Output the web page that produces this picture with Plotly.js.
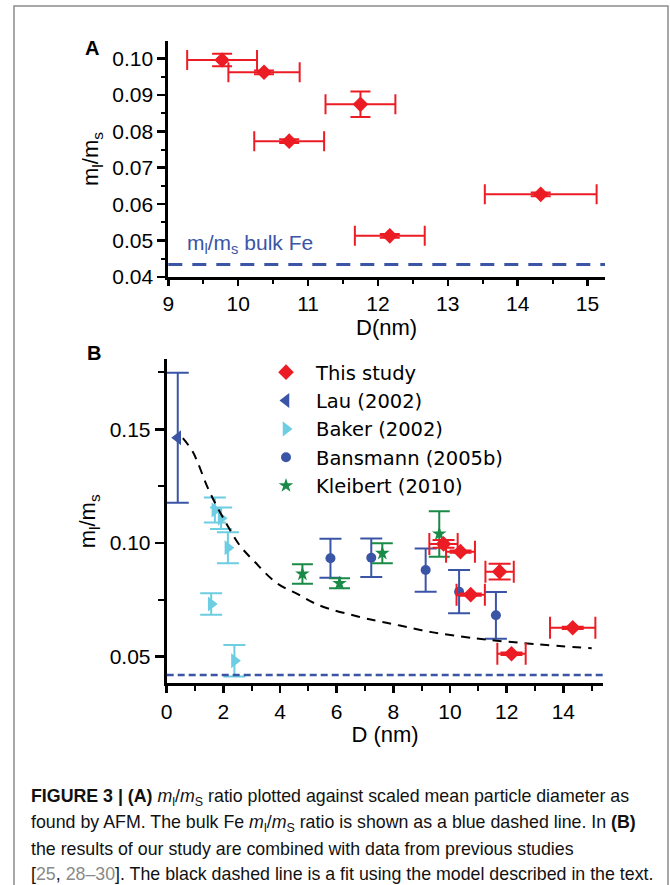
<!DOCTYPE html>
<html>
<head>
<meta charset="utf-8">
<script src="https://cdn.plot.ly/plotly-3.0.1.min.js"></script>
<style>html,body{margin:0;padding:0;background:#fff;}#chart{width:670px;height:885px;}</style>
</head>
<body>
<div id="chart"></div>
<script>
// ---- data ----
// This study (panels A and B)
const thisD     = [9.77, 10.37, 10.73, 11.75, 12.17, 14.33];
const thisR     = [0.0996, 0.0962, 0.0773, 0.0874, 0.0513, 0.0627];
const thisDerr  = [0.50, 0.51, 0.50, 0.50, 0.50, 0.80];
const thisRerr  = [0.0017, 0.0005, 0.0005, 0.0035, 0.0005, 0.0005];
// Lau (2002)
const lauD    = [0.39];
const lauR    = [0.1463];
const lauErr  = [0.0286];
// Baker (2002)
const bakerD   = [1.70, 1.92, 2.16, 1.57, 2.39];
const bakerR   = [0.1145, 0.1109, 0.0979, 0.0732, 0.0482];
const bakerErr = [0.0055, 0.0047, 0.0068, 0.0047, 0.0069];
// Bansmann (2005b)
const bansD   = [5.78, 7.22, 9.14, 10.32, 11.62];
const bansR   = [0.0933, 0.0935, 0.0881, 0.0786, 0.0682];
const bansErr = [0.0086, 0.0085, 0.0095, 0.0095, 0.0103];
// Kleibert (2010)
const kleiD   = [4.79, 6.10, 7.61, 9.62];
const kleiR   = [0.0864, 0.0823, 0.0955, 0.1040];
const kleiErr = [0.0043, 0.0022, 0.0044, 0.0100];
// model fit (black dashed)
const fitD = [0.57, 0.92, 1.51, 2.10, 2.57, 3.10, 3.87, 4.69, 5.40, 6.81, 7.52, 8.23, 9.40, 10.58, 11.29, 12.94, 15.0];
const fitR = [0.1461, 0.1401, 0.1226, 0.1087, 0.0991, 0.0918, 0.0825, 0.0771, 0.0725, 0.0675, 0.0655, 0.0637, 0.0607, 0.0586, 0.0575, 0.0556, 0.0537];
// bulk Fe ratio as drawn in each panel
const bulkFeA = 0.0434;
const bulkFeB = 0.0420;
// legend names
const names = ['This study', 'Lau (2002)', 'Baker (2002)', 'Bansmann (2005b)', 'Kleibert (2010)'];

// ---- styles ----
const FONT = 'Arial, "Liberation Sans", sans-serif';
const LEGFONT = '"DejaVu Sans", Arial, sans-serif';
const RED = '#ec1c24', BLUE = '#3a55a5', CYAN = '#6dcde2', GREEN = '#1a8a47';
const W = 670, H = 885;
const px = v => v / W, py = v => 1 - v / H;

function errY(arr, color, w) { return {type: 'data', array: arr, visible: true, color: color, thickness: 2, width: w}; }

const traces = [
  // Panel A
  {x: thisD, y: thisR, xaxis: 'x', yaxis: 'y', mode: 'markers', type: 'scatter', showlegend: false,
   marker: {symbol: 'diamond', size: 12, color: RED},
   error_x: errY(thisDerr, RED, 10), error_y: errY(thisRerr, RED, 10)},
  // Panel B
  {x: lauD, y: lauR, xaxis: 'x2', yaxis: 'y2', mode: 'markers', type: 'scatter', name: names[1], legendrank: 2,
   marker: {symbol: 'triangle-left', size: 13, color: BLUE}, error_y: errY(lauErr, BLUE, 11)},
  {x: bakerD, y: bakerR, xaxis: 'x2', yaxis: 'y2', mode: 'markers', type: 'scatter', name: names[2], legendrank: 3,
   marker: {symbol: 'triangle-right', size: 13, color: CYAN}, error_y: errY(bakerErr, CYAN, 11)},
  {x: bansD, y: bansR, xaxis: 'x2', yaxis: 'y2', mode: 'markers', type: 'scatter', name: names[3], legendrank: 4,
   marker: {symbol: 'circle', size: 10, color: BLUE}, error_y: errY(bansErr, BLUE, 11)},
  {x: kleiD, y: kleiR, xaxis: 'x2', yaxis: 'y2', mode: 'markers', type: 'scatter', name: names[4], legendrank: 5,
   marker: {symbol: 'star', size: 11, color: GREEN}, error_y: errY(kleiErr, GREEN, 10.5)},
  {x: fitD, y: fitR, xaxis: 'x2', yaxis: 'y2', mode: 'lines', type: 'scatter', showlegend: false,
   line: {color: 'black', width: 2, dash: '9px,7px', shape: 'spline'}},
  {x: thisD, y: thisR, xaxis: 'x2', yaxis: 'y2', mode: 'markers', type: 'scatter', name: names[0], legendrank: 1,
   marker: {symbol: 'diamond', size: 12, color: RED},
   error_x: errY(thisDerr, RED, 11), error_y: errY(thisRerr, RED, 11)}
];

function ax(extra) {
  return Object.assign({
    showline: true, linecolor: 'black', linewidth: 3, mirror: false,
    ticks: 'outside', tickcolor: 'black', tickwidth: 2.5,
    showgrid: false, zeroline: false, fixedrange: true,
    tickfont: {family: FONT, size: 21, color: 'black'}
  }, extra);
}
function ovl(extra) {
  return Object.assign({
    showline: true, linecolor: 'black', linewidth: 3,
    ticks: 'inside', tickcolor: 'black', tickwidth: 2.5,
    showticklabels: false, showgrid: false, zeroline: false, fixedrange: true
  }, extra);
}

const xA = [9, 15.25], yA = [0.04, 0.1048];
const xB = [0, 15.41], yB = [0.0383, 0.1808];
const titleFont = {family: FONT, size: 22, color: 'black'};
const capFont = {family: FONT, size: 17.8, color: '#111'};

const layout = {
  width: W, height: H,
  margin: {l: 0, r: 0, t: 0, b: 0},
  paper_bgcolor: 'white', plot_bgcolor: 'rgba(0,0,0,0)',
  font: {family: FONT, color: 'black'},
  showlegend: true,
  legend: {x: px(256), y: py(353), xanchor: 'left', yanchor: 'top', bgcolor: 'rgba(0,0,0,0)',
           font: {family: LEGFONT, size: 19.5, color: 'black'}, itemwidth: 50, tracegroupgap: 0},
  // Panel A
  xaxis: ax({domain: [px(168.3), px(605)], range: xA, anchor: 'y', dtick: 1, tick0: 9, ticklen: 6,
             minor: {ticks: 'outside', dtick: 0.5, ticklen: 3.5, tickcolor: 'black', tickwidth: 2},
             title: {text: 'D(nm)', font: titleFont, standoff: 4}}),
  yaxis: ax({domain: [py(277), py(41)], range: yA, anchor: 'x', dtick: 0.01, tick0: 0, tickformat: '.2f', ticklen: 8,
             minor: {ticks: 'outside', dtick: 0.005, ticklen: 4, tickcolor: 'black', tickwidth: 2},
             title: {text: 'm<sub>l</sub>/m<sub>s</sub>', font: titleFont, standoff: 8}}),
  xaxis3: ovl({overlaying: 'x', side: 'top', anchor: 'y', range: xA, dtick: 1, tick0: 9, ticklen: 5,
               minor: {ticks: 'inside', dtick: 0.5, ticklen: 3, tickcolor: 'black', tickwidth: 2}}),
  yaxis3: ovl({overlaying: 'y', side: 'right', anchor: 'x', range: yA, dtick: 0.01, tick0: 0, ticklen: 6,
               minor: {ticks: 'inside', dtick: 0.005, ticklen: 3.5, tickcolor: 'black', tickwidth: 2}}),
  // Panel B
  xaxis2: ax({domain: [px(166.7), px(603.3)], range: xB, anchor: 'y2', dtick: 2, tick0: 0, ticklen: 7,
              minor: {ticks: 'outside', dtick: 1, ticklen: 4.5, tickcolor: 'black', tickwidth: 2},
              title: {text: 'D (nm)', font: titleFont, standoff: 6}}),
  yaxis2: ax({domain: [py(683.3), py(359.3)], range: yB, anchor: 'x2', dtick: 0.05, tick0: 0, tickformat: '.2f', ticklen: 9,
              minor: {ticks: 'outside', dtick: 0.025, ticklen: 6, tickcolor: 'black', tickwidth: 2},
              title: {text: 'm<sub>l</sub>/m<sub>s</sub>', font: titleFont, standoff: 8}}),
  xaxis4: ovl({overlaying: 'x2', side: 'top', anchor: 'y2', range: xB, dtick: 2, tick0: 0, ticklen: 6,
               minor: {ticks: 'inside', dtick: 1, ticklen: 4, tickcolor: 'black', tickwidth: 2}}),
  yaxis4: ovl({overlaying: 'y2', side: 'right', anchor: 'x2', range: yB, dtick: 0.05, tick0: 0, ticklen: 7,
               minor: {ticks: 'inside', dtick: 0.025, ticklen: 5, tickcolor: 'black', tickwidth: 2}}),
  shapes: [
    {type: 'line', xref: 'x domain', yref: 'y', x0: 0, x1: 1, y0: bulkFeA, y1: bulkFeA,
     line: {color: BLUE, width: 3, dash: '14px,10px'}},
    {type: 'line', xref: 'x2 domain', yref: 'y2', x0: 0, x1: 1, y0: bulkFeB, y1: bulkFeB,
     line: {color: BLUE, width: 2.5, dash: '7px,4px'}},
    {type: 'rect', xref: 'paper', yref: 'paper', x0: px(14), x1: px(668), y0: py(895), y1: py(6),
     line: {color: '#8c8c8c', width: 1.5}, fillcolor: 'rgba(0,0,0,0)', layer: 'below'}
  ],
  annotations: [
    {xref: 'paper', yref: 'paper', x: px(83), y: py(35), text: '<b>A</b>', showarrow: false,
     font: {family: FONT, size: 20, color: 'black'}},
    {xref: 'paper', yref: 'paper', x: px(85), y: py(353), text: '<b>B</b>', showarrow: false,
     font: {family: FONT, size: 20, color: 'black'}},
    {xref: 'paper', yref: 'paper', x: px(185), y: py(244), xanchor: 'left', yanchor: 'middle',
     text: 'm<sub>l</sub>/m<sub>s</sub> bulk Fe', showarrow: false, font: {family: FONT, size: 21, color: BLUE}},
    {xref: 'paper', yref: 'paper', x: px(29), y: py(797), xanchor: 'left', yanchor: 'middle', showarrow: false, font: capFont,
     text: '<b>FIGURE 3 | (A)</b> <i>m</i><sub>l</sub>/<i>m</i><sub>S</sub> ratio plotted against scaled mean particle diameter as'},
    {xref: 'paper', yref: 'paper', x: px(29), y: py(823), xanchor: 'left', yanchor: 'middle', showarrow: false, font: capFont,
     text: 'found by AFM. The bulk Fe <i>m</i><sub>l</sub>/<i>m</i><sub>S</sub> ratio is shown as a blue dashed line. In <b>(B)</b>'},
    {xref: 'paper', yref: 'paper', x: px(29), y: py(848.5), xanchor: 'left', yanchor: 'middle', showarrow: false, font: capFont,
     text: 'the results of our study are combined with data from previous studies'},
    {xref: 'paper', yref: 'paper', x: px(29), y: py(873.5), xanchor: 'left', yanchor: 'middle', showarrow: false, font: capFont,
     text: '[<span style="color:#8a8a8a">25</span>, <span style="color:#8a8a8a">28–30</span>]. The black dashed line is a fit using the model described in the text.'}
  ]
};

Plotly.newPlot('chart', traces, layout, {staticPlot: true, displayModeBar: false});
</script>
</body>
</html>
